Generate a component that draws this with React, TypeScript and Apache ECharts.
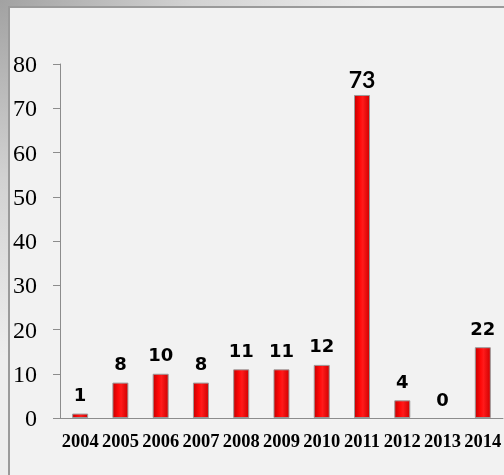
import React, { useEffect, useRef } from "react";
import * as echarts from "echarts";

const years = ["2004", "2005", "2006", "2007", "2008", "2009", "2010", "2011", "2012", "2013", "2014"];
const barValues = [1, 8, 10, 8, 11, 11, 12, 73, 4, 0, 16];
const barLabels = ["1", "8", "10", "8", "11", "11", "12", "73", "4", "0", "22"];
const yTicks = { min: 0, max: 80, interval: 10 };

export default function App() {
  const ref = useRef<HTMLDivElement>(null);
  useEffect(() => {
    if (!ref.current) return;
    document.body.style.margin = "0";
    document.body.style.overflow = "hidden";
    const chart = echarts.init(ref.current, undefined, { renderer: "svg" });
    const barGradient = new echarts.graphic.LinearGradient(0, 0, 1, 0, [
      { offset: 0, color: "#c80000" },
      { offset: 0.35, color: "#ff0808" },
      { offset: 0.55, color: "#ff1a1a" },
      { offset: 1, color: "#d00000" },
    ]);
    chart.setOption({
      animation: false,
      graphic: [
        {
          type: "rect",
          z: -10,
          silent: true,
          shape: { x: 0, y: 0, width: 504, height: 475 },
          style: {
            fill: new echarts.graphic.RadialGradient(0, 0, 0.75, [
              { offset: 0, color: "#a2a2a2" },
              { offset: 0.5, color: "#d2d2d2" },
              { offset: 1, color: "#ededed" },
            ]),
          },
        },
        {
          type: "rect",
          z: -9,
          silent: true,
          shape: { x: 9, y: 7, width: 600, height: 600 },
          style: { fill: "#f2f2f2" },
        },
        {
          type: "polyline",
          z: -8,
          silent: true,
          shape: { points: [[9, 475], [9, 7], [504, 7]] },
          style: { stroke: "#9a9a9a", lineWidth: 2, fill: null },
        },
      ],
      grid: { left: 60, top: 64, width: 450, height: 354 },
      xAxis: {
        type: "category",
        data: years,
        axisLine: { lineStyle: { color: "#8c8c8c", width: 1 } },
        axisTick: { length: 6, lineStyle: { color: "#8c8c8c" } },
        axisLabel: {
          color: "#000",
          fontFamily: "Liberation Serif",
          fontWeight: "bold",
          fontSize: 18.5,
          margin: 13,
          interval: 0,
        },
      },
      yAxis: {
        type: "value",
        min: yTicks.min,
        max: yTicks.max,
        interval: yTicks.interval,
        splitLine: { show: false },
        axisLine: { show: true, lineStyle: { color: "#8c8c8c", width: 1 } },
        axisTick: { show: true, length: 7, lineStyle: { color: "#8c8c8c" } },
        axisLabel: {
          color: "#000",
          fontFamily: "Liberation Serif",
          fontSize: 24,
          margin: 23,
        },
      },
      series: [
        {
          type: "bar",
          barWidth: 16,
          data: barValues.map((v, i) => {
            if (barLabels[i] === "73") {
              return {
                value: v,
                label: { fontFamily: "Lato", fontWeight: "bold", fontSize: 23, distance: 4 },
              };
            }
            if (v === 0) {
              return { value: v, itemStyle: { borderWidth: 0 } };
            }
            return v;
          }),
          itemStyle: { color: barGradient, borderColor: "#9a9a9a", borderWidth: 1 },
          label: {
            show: true,
            position: "top",
            distance: 10,
            color: "#000",
            fontFamily: "DejaVu Sans",
            fontWeight: "bold",
            fontSize: 18,
            formatter: (p: any) => barLabels[p.dataIndex],
          },
        },
      ],
    });
    return () => chart.dispose();
  }, []);
  return (
    <div
      ref={ref}
      style={{ position: "fixed", left: 0, top: 0, width: 504, height: 475 }}
    />
  );
}
